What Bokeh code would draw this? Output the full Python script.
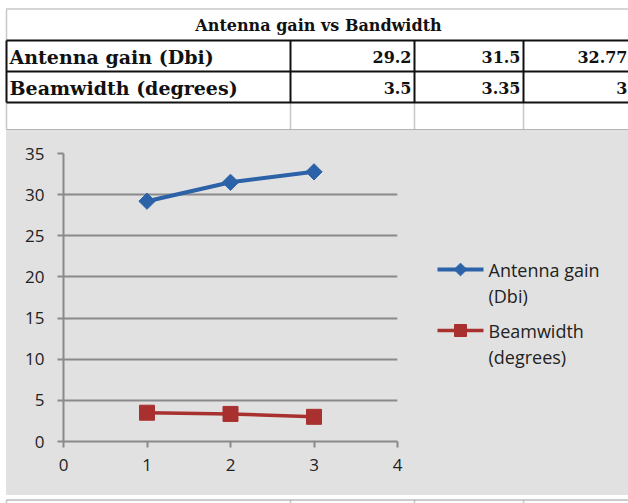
from bokeh.plotting import figure
from bokeh.models import Range1d, FixedTicker, ColumnDataSource
from bokeh.layouts import column, row
from bokeh.embed import file_html
from bokeh.resources import INLINE
from bokeh.core.properties import value

# ---------------- data ----------------
table_title = "Antenna gain vs Bandwidth"
series_names = ["Antenna gain (Dbi)", "Beamwidth (degrees)"]
legend_line1 = ["Antenna gain", "Beamwidth"]
legend_line2 = ["(Dbi)", "(degrees)"]
x_values = [1, 2, 3]
antenna_gain = [29.2, 31.5, 32.77]
beamwidth = [3.5, 3.35, 3]
x_ticks = [0, 1, 2, 3, 4]
y_ticks = [0, 5, 10, 15, 20, 25, 30, 35]

# ---------------- styles ----------------
BLUE = "#2C62A8"
RED = "#A8302E"
GRID = "#8A8A8A"
BG = "#E1E1E1"
CELL = "#C8C8C8"
SERIF = "DejaVu Serif"
SANS = "Open Sans"

W = 628
TH = 130
CH = 365
BH = 8
CW = 410          # chart figure width (starts at x = 6)
LW = W - 6 - CW   # legend panel width


def no_align(fig):
    try:
        fig.frame_align = False
    except Exception:
        pass


def blank(width, height, x0, x1, y0, y1, fill, **kw):
    f = figure(width=width, height=height, x_range=Range1d(x0, x1),
               y_range=Range1d(y1, y0), output_backend="svg",
               toolbar_location=None, min_border=0,
               x_axis_location=None, y_axis_location=None, **kw)
    no_align(f)
    f.grid.visible = False
    f.outline_line_color = None
    f.background_fill_color = fill
    f.border_fill_color = fill
    return f


# ---------------- table (spreadsheet cells) ----------------
t = blank(W, TH, 0, W, 0, TH, "white")

col_edges = [6, 290, 414, 523]
row_edges = [40, 71, 102]
t.segment(x0=[6, 6] + col_edges, y0=[8.5, 8] + [102] * 4,
          x1=[W, 6] + col_edges, y1=[8.5, 40] + [129] * 4,
          line_color=CELL, line_width=1.5)
t.segment(x0=[6] * 3, y0=row_edges, x1=[W] * 3, y1=row_edges,
          line_color="#111111", line_width=2)
t.segment(x0=col_edges, y0=[40] * 4, x1=col_edges, y1=[102] * 4,
          line_color="#111111", line_width=2)
t.segment(x0=[6], y0=[129.5], x1=[W], y1=[129.5], line_color="#9A9A9A", line_width=1.5)

t.text(x=[318], y=[25], text=[table_title], text_font=value(SERIF),
       text_font_style="bold", text_font_size="16px", text_align="center",
       text_baseline="middle", text_color="#111111")
row_y = [56, 87]
t.text(x=[9, 9], y=row_y, text=series_names, text_font=value(SERIF),
       text_font_style="bold", text_font_size="19px", text_align="left",
       text_baseline="middle", text_color="#111111")
num_x = [411, 520, 627]
cells_x, cells_y, cells_t = [], [], []
for ry, vals in zip(row_y, [antenna_gain, beamwidth]):
    for nx, v in zip(num_x, vals):
        cells_x.append(nx)
        cells_y.append(ry)
        cells_t.append(f"{v:g}")
t.text(x=cells_x, y=cells_y, text=cells_t, text_font=value(SERIF),
       text_font_style="bold", text_font_size="16px", text_align="right",
       text_baseline="middle", text_color="#111111")

# ---------------- chart ----------------
p = figure(width=CW, height=CH, x_range=Range1d(0, 4), y_range=Range1d(0, 35),
           output_backend="svg", toolbar_location=None,
           min_border_left=57, min_border_right=19, min_border_top=23,
           min_border_bottom=54)
no_align(p)
p.background_fill_color = BG
p.border_fill_color = BG
p.outline_line_color = None

src = ColumnDataSource(dict(x=x_values, gain=antenna_gain, beam=beamwidth))
p.line("x", "gain", source=src, line_color=BLUE, line_width=4)
p.scatter("x", "gain", source=src, marker="square", angle=0.785398,
          size=11.5, fill_color=BLUE, line_color=BLUE)
p.line("x", "beam", source=src, line_color=RED, line_width=3.5)
p.scatter("x", "beam", source=src, marker="square", size=15,
          fill_color=RED, line_color=RED)

p.xaxis.ticker = FixedTicker(ticks=x_ticks)
p.yaxis.ticker = FixedTicker(ticks=y_ticks)
for ax in p.axis:
    ax.axis_line_color = GRID
    ax.axis_line_width = 2
    ax.major_tick_line_color = GRID
    ax.major_tick_line_width = 2
    ax.major_tick_in = 0
    ax.major_tick_out = 6
    ax.minor_tick_in = 0
    ax.minor_tick_out = 0
    ax.major_label_text_font = SANS
    ax.major_label_text_font_size = "17px"
    ax.major_label_text_color = "#222222"
p.yaxis.major_label_standoff = 13
p.xaxis.major_label_standoff = 11
p.xgrid.grid_line_color = None
p.ygrid.grid_line_color = GRID
p.ygrid.grid_line_width = 2

# ---------------- legend panel (page coordinates) ----------------
lx0 = 6 + CW
lg = blank(LW, CH, lx0, lx0 + LW, 130, 130 + CH, BG)
key_y = [269, 330]
lg.segment(x0=[437, 437], y0=key_y, x1=[483, 483], y1=key_y,
           line_color=[BLUE, RED], line_width=[4, 3.5])
lg.scatter(x=[460], y=[key_y[0]], marker="square", angle=0.785398, size=9,
           fill_color=BLUE, line_color=BLUE)
lg.scatter(x=[460], y=[key_y[1]], marker="square", size=12,
           fill_color=RED, line_color=RED)
lg.text(x=[488, 488], y=key_y, text=legend_line1, text_font=value(SANS),
        text_font_size="18px", text_align="left", text_baseline="middle",
        text_color="#222222")
lg.text(x=[488, 488], y=[k + 26 for k in key_y], text=legend_line2,
        text_font=value(SANS), text_font_size="18px", text_align="left",
        text_baseline="middle", text_color="#222222")

# ---------------- bottom strip of sheet cells ----------------
b = blank(W, BH, 0, W, 0, BH, "white")
b.segment(x0=col_edges, y0=[0] * 4, x1=col_edges, y1=[BH] * 4,
          line_color=CELL, line_width=1.5)
b.segment(x0=[6], y0=[0], x1=[W], y1=[0], line_color="#9A9A9A", line_width=2)

chart_row = row(p, lg, spacing=0, margin=(0, 0, 0, 6),
                styles={"background-color": BG})
layout = column(t, chart_row, b, spacing=0)
open("out.html", "w").write(file_html(layout, INLINE))
